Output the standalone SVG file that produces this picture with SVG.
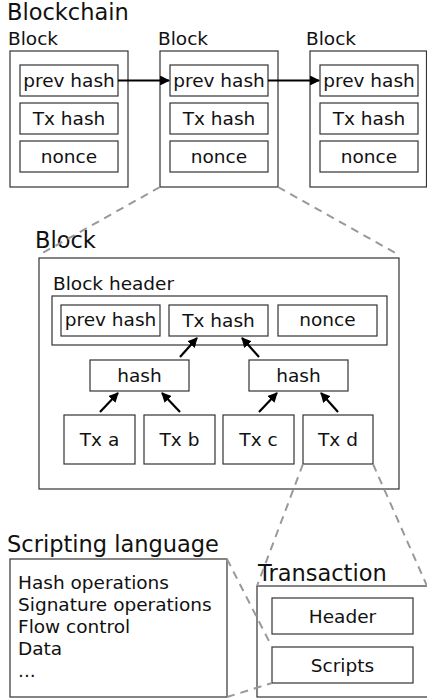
<svg xmlns="http://www.w3.org/2000/svg" width="427" height="700" viewBox="0 0 427 700">
<style>
  text { font-family: "DejaVu Sans", sans-serif; fill: #111; }
  .big { font-size: 22.5px; }
  .lbl { font-size: 18.5px; }
  .c { text-anchor: middle; }
  .box { fill: #fff; stroke: #333; stroke-width: 1.2; }
  .frame { fill: none; stroke: #333; stroke-width: 1.2; }
  .dash { fill: none; stroke: #999; stroke-width: 2; stroke-dasharray: 8 6; }
  .arr { fill: none; stroke: #000; stroke-width: 2.2; marker-end: url(#ah); }
</style>
<defs>
  <marker id="ah" viewBox="0 0 10 10" refX="9" refY="5" markerWidth="4.5" markerHeight="4.5" orient="auto" markerUnits="strokeWidth">
    <path d="M0,0 L10,5 L0,10 z" fill="#000"/>
  </marker>
</defs>
<rect width="427" height="700" fill="#fff"/>

<text class="big" x="7" y="20">Blockchain</text>

<g id="block1">
  <text class="lbl" x="8" y="45">Block</text>
  <rect class="box" x="10" y="51" width="118" height="136"/>
  <rect class="box" x="20" y="65" width="98" height="31"/>
  <text class="lbl c" x="69" y="87">prev hash</text>
  <rect class="box" x="20" y="103" width="98" height="31"/>
  <text class="lbl c" x="69" y="125">Tx hash</text>
  <rect class="box" x="20" y="141" width="98" height="31"/>
  <text class="lbl c" x="69" y="163">nonce</text>
</g>
<g id="block2">
  <text class="lbl" x="158" y="45">Block</text>
  <rect class="box" x="160" y="51" width="118" height="136"/>
  <rect class="box" x="170" y="65" width="98" height="31"/>
  <text class="lbl c" x="219" y="87">prev hash</text>
  <rect class="box" x="170" y="103" width="98" height="31"/>
  <text class="lbl c" x="219" y="125">Tx hash</text>
  <rect class="box" x="170" y="141" width="98" height="31"/>
  <text class="lbl c" x="219" y="163">nonce</text>
</g>
<g id="block3">
  <text class="lbl" x="306" y="45">Block</text>
  <rect class="box" x="310" y="51" width="116.5" height="136"/>
  <rect class="box" x="320" y="65" width="98" height="31"/>
  <text class="lbl c" x="369" y="87">prev hash</text>
  <rect class="box" x="320" y="103" width="98" height="31"/>
  <text class="lbl c" x="369" y="125">Tx hash</text>
  <rect class="box" x="320" y="141" width="98" height="31"/>
  <text class="lbl c" x="369" y="163">nonce</text>
</g>

<g id="block-detail">
  <text class="big" x="35" y="248">Block</text>
  <rect class="frame" x="39" y="258" width="360" height="231"/>
  <text class="lbl" x="53" y="290">Block header</text>
  <rect class="frame" x="52" y="296" width="335" height="49"/>
</g>
<g id="hdr-prev">
  <rect class="box" x="61" y="305" width="99" height="31"/>
  <text class="lbl c" x="110.5" y="326">prev hash</text>
</g>
<g id="hdr-tx">
  <rect class="box" x="169" y="305" width="99" height="31"/>
  <text class="lbl c" x="218.5" y="327">Tx hash</text>
</g>
<g id="hdr-nonce">
  <rect class="box" x="278" y="305" width="99" height="31"/>
  <text class="lbl c" x="327.5" y="326">nonce</text>
</g>
<g id="hash-left">
  <rect class="box" x="90" y="360" width="99" height="31"/>
  <text class="lbl c" x="139.5" y="382">hash</text>
</g>
<g id="hash-right">
  <rect class="box" x="249" y="360" width="99" height="31"/>
  <text class="lbl c" x="298.5" y="382">hash</text>
</g>
<g id="txa">
  <rect class="box" x="64" y="415" width="71" height="49"/>
  <text class="lbl c" x="99.5" y="446">Tx a</text>
</g>
<g id="txb">
  <rect class="box" x="144" y="415" width="71" height="49"/>
  <text class="lbl c" x="179.5" y="446">Tx b</text>
</g>
<g id="txc">
  <rect class="box" x="223" y="415" width="71" height="49"/>
  <text class="lbl c" x="258.5" y="446">Tx c</text>
</g>
<g id="txd">
  <rect class="box" x="303" y="415" width="70" height="49"/>
  <text class="lbl c" x="338" y="446">Tx d</text>
</g>

<g id="scripting">
  <text class="big" x="7" y="552">Scripting language</text>
  <rect class="box" x="10" y="559" width="217" height="138"/>
  <text class="lbl" x="18" y="589">Hash operations</text>
  <text class="lbl" x="18" y="611">Signature operations</text>
  <text class="lbl" x="18" y="633">Flow control</text>
  <text class="lbl" x="18" y="655">Data</text>
  <text class="lbl" x="18" y="677">...</text>
</g>

<g id="transaction">
  <text class="big" x="258" y="581">Transaction</text>
  <rect class="frame" x="257" y="586" width="171" height="111"/>
</g>
<g id="tx-header">
  <rect class="box" x="272" y="598" width="141" height="36"/>
  <text class="lbl c" x="342.5" y="623">Header</text>
</g>
<g id="tx-scripts">
  <rect class="box" x="272" y="647" width="141" height="36"/>
  <text class="lbl c" x="342.5" y="672">Scripts</text>
</g>

<g id="connectors">
  <line class="dash" x1="160" y1="187" x2="39" y2="255"/>
  <line class="dash" x1="278" y1="187" x2="399" y2="255"/>
  <line class="dash" x1="303" y1="464" x2="257" y2="586"/>
  <line class="dash" x1="373" y1="464" x2="427" y2="586"/>
  <line class="dash" x1="227" y1="559" x2="272" y2="647"/>
  <line class="dash" x1="227" y1="697" x2="272" y2="683"/>
  <line class="arr" x1="118" y1="80.5" x2="169" y2="80.5"/>
  <line class="arr" x1="268" y1="80.5" x2="319" y2="80.5"/>
  <line class="arr" x1="180" y1="357" x2="197" y2="338"/>
  <line class="arr" x1="259" y1="357" x2="242" y2="338"/>
  <line class="arr" x1="100" y1="412" x2="118" y2="393"/>
  <line class="arr" x1="180" y1="412" x2="162" y2="393"/>
  <line class="arr" x1="259" y1="412" x2="277" y2="393"/>
  <line class="arr" x1="338" y1="412" x2="321" y2="393"/>
</g>
</svg>
